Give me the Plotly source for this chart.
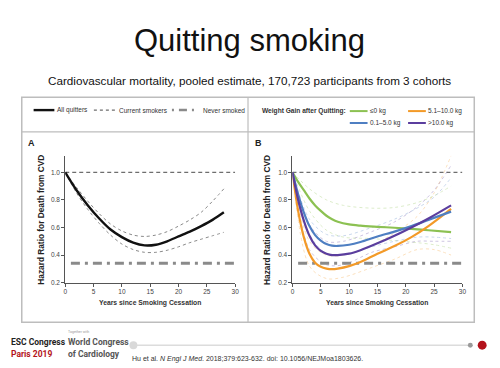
import plotly.graph_objects as go

# ---------------- data ----------------
YEARS_A = [0, 2, 4, 6, 8, 10, 12, 14, 16, 18, 20, 22, 24, 26, 28]
ALL_QUITTERS = [1.0, 0.87, 0.76, 0.665, 0.585, 0.53, 0.49, 0.47, 0.475, 0.50, 0.535, 0.57, 0.61, 0.655, 0.71]
ALL_UPPER = [1.0, 0.89, 0.79, 0.70, 0.625, 0.575, 0.545, 0.535, 0.545, 0.57, 0.61, 0.655, 0.71, 0.79, 0.88]
ALL_LOWER = [1.0, 0.85, 0.73, 0.63, 0.545, 0.48, 0.44, 0.42, 0.42, 0.435, 0.46, 0.49, 0.515, 0.54, 0.565]

REF_YEARS = [0, 30]
CURRENT_SMOKERS = [1.0, 1.0]
NEVER_YEARS = [1, 29.8]
NEVER_SMOKED = [0.34, 0.34]

YEARS_B = [0, 1, 2, 3, 4, 5, 6, 7, 8, 10, 12, 15, 18, 21, 24, 28]
GAIN_LE0 = [1.0, 0.93, 0.87, 0.81, 0.76, 0.72, 0.685, 0.66, 0.642, 0.622, 0.613, 0.605, 0.598, 0.59, 0.58, 0.567]
GAIN_0_5 = [1.0, 0.84, 0.71, 0.61, 0.545, 0.505, 0.48, 0.468, 0.466, 0.475, 0.495, 0.535, 0.57, 0.61, 0.655, 0.715]
GAIN_5_10 = [1.0, 0.72, 0.53, 0.41, 0.345, 0.315, 0.302, 0.298, 0.302, 0.32, 0.35, 0.41, 0.465, 0.53, 0.61, 0.735]
GAIN_GT10 = [1.0, 0.80, 0.65, 0.54, 0.47, 0.43, 0.41, 0.40, 0.40, 0.41, 0.435, 0.485, 0.54, 0.60, 0.665, 0.76]

CI_YEARS_B = [0, 3, 6, 9, 14, 18, 22, 25, 28]
LE0_UP = [1.0, 0.88, 0.80, 0.76, 0.74, 0.745, 0.78, 0.83, 0.90]
LE0_LO = [1.0, 0.72, 0.58, 0.53, 0.52, 0.505, 0.49, 0.475, 0.45]
G05_UP = [1.0, 0.66, 0.55, 0.54, 0.60, 0.66, 0.74, 0.82, 0.96]
G05_LO = [1.0, 0.55, 0.41, 0.40, 0.46, 0.50, 0.53, 0.53, 0.52]
G510_UP = [1.0, 0.50, 0.40, 0.40, 0.47, 0.56, 0.68, 0.85, 1.12]
G510_LO = [1.0, 0.32, 0.23, 0.24, 0.31, 0.37, 0.44, 0.44, 0.40]
G10_UP = [1.0, 0.62, 0.50, 0.50, 0.57, 0.64, 0.75, 0.87, 1.05]
G10_LO = [1.0, 0.44, 0.33, 0.33, 0.42, 0.46, 0.50, 0.50, 0.50]

Y_TICKS = [0.2, 0.4, 0.6, 0.8, 1.0]
Y_TICK_TEXT = ["0.2", "0.4", "0.6", "0.8", "1.0"]
X_TICKS = [0, 5, 10, 15, 20, 25, 30]

LEGEND_A = ["All quitters", "Current smokers", "Never smoked"]
LEGEND_B = ["≤0 kg", "5.1–10.0 kg", "0.1–5.0 kg", ">10.0 kg"]

# ---------------- styles ----------------
W, H = 500, 368
GREEN, BLUE, ORANGE, PURPLE = "#8cc152", "#4f7fc2", "#f39a28", "#5b3e9e"
SANS = "Liberation Sans, Arial, sans-serif"
GREYDASH = "#6e6e6e"
NEVER_COL = "#8a8a8a"


def px(x):
    return x / W


def py(y):
    return 1 - y / H


fig = go.Figure()


def line(x, y, color, width, dash="solid", axes=("x", "y"), opacity=1.0):
    fig.add_trace(go.Scatter(x=x, y=y, mode="lines", xaxis=axes[0], yaxis=axes[1],
                             line=dict(color=color, width=width, dash=dash, shape="spline", smoothing=0.9),
                             opacity=opacity, hoverinfo="skip", showlegend=False))


# Panel A
for arr in (ALL_UPPER, ALL_LOWER):
    line(YEARS_A, arr, "#8a8a8a", 1, "dot")
line(REF_YEARS, CURRENT_SMOKERS, GREYDASH, 1.3, "4px,3px")
line(NEVER_YEARS, NEVER_SMOKED, NEVER_COL, 3, "9px,5px,3px,5px")
line(YEARS_A, ALL_QUITTERS, "#111111", 2.4)

# Panel B
B = ("x2", "y2")
for arr, c in ((LE0_UP, GREEN), (LE0_LO, GREEN), (G05_UP, BLUE), (G05_LO, BLUE),
               (G510_UP, ORANGE), (G510_LO, ORANGE), (G10_UP, PURPLE), (G10_LO, PURPLE)):
    line(CI_YEARS_B, arr, c, 1, "dot", B, 0.3)
line(REF_YEARS, CURRENT_SMOKERS, GREYDASH, 1.3, "4px,3px", B)
line(NEVER_YEARS, NEVER_SMOKED, NEVER_COL, 3, "9px,5px,3px,5px", B)
line(YEARS_B, GAIN_LE0, GREEN, 2.2, axes=B)
line(YEARS_B, GAIN_5_10, ORANGE, 2.2, axes=B)
line(YEARS_B, GAIN_0_5, BLUE, 2.2, axes=B)
line(YEARS_B, GAIN_GT10, PURPLE, 2.2, axes=B)

ydom = [py(285), py(157)]
axis_common = dict(showline=True, linecolor="#555", linewidth=1, ticks="outside", ticklen=3,
                   tickcolor="#555", tickwidth=1, showgrid=False, zeroline=False,
                   tickfont=dict(family=SANS, size=6.5, color="#444"), fixedrange=True)
fig.update_layout(
    xaxis=dict(domain=[px(64), px(236)], range=[0, 30], tickvals=X_TICKS, anchor="y", **axis_common),
    yaxis=dict(domain=ydom, range=[0.2, 1.12], tickvals=Y_TICKS, ticktext=Y_TICK_TEXT, anchor="x", **axis_common),
    xaxis2=dict(domain=[px(294), px(466)], range=[0, 30], tickvals=X_TICKS, anchor="y2", **axis_common),
    yaxis2=dict(domain=ydom, range=[0.2, 1.12], tickvals=Y_TICKS, ticktext=Y_TICK_TEXT, anchor="x2", **axis_common),
)

shapes = []
# frame
shapes.append(dict(type="rect", xref="paper", yref="paper", x0=px(20), x1=px(478), y0=py(98), y1=py(325),
                   line=dict(color="#bdbdbd", width=1.5), layer="below"))
shapes.append(dict(type="line", xref="paper", yref="paper", x0=px(249), x1=px(249), y0=py(98), y1=py(325),
                   line=dict(color="#bdbdbd", width=1.2), layer="below"))
shapes.append(dict(type="line", xref="paper", yref="paper", x0=px(20), x1=px(478), y0=py(133), y1=py(133),
                   line=dict(color="#bdbdbd", width=1.2), layer="below"))

# legend samples (panel A)
ly = py(111)
shapes.append(dict(type="line", xref="paper", yref="paper", x0=px(32), x1=px(53), y0=ly, y1=ly,
                   line=dict(color="#111", width=2.4)))
shapes.append(dict(type="line", xref="paper", yref="paper", x0=px(93), x1=px(115), y0=ly, y1=ly,
                   line=dict(color=GREYDASH, width=1.2, dash="3px,3px")))
shapes.append(dict(type="line", xref="paper", yref="paper", x0=px(172), x1=px(198), y0=ly, y1=ly,
                   line=dict(color=NEVER_COL, width=2.5, dash="2px,5px,8px,5px")))
# legend samples (panel B)
for (x0, yy, c) in ((352, 112, GREEN), (411, 112, ORANGE), (352, 124, BLUE), (411, 124, PURPLE)):
    shapes.append(dict(type="line", xref="paper", yref="paper", x0=px(x0), x1=px(x0 + 18),
                       y0=py(yy), y1=py(yy), line=dict(color=c, width=2)))

# footer decorations
shapes.append(dict(type="line", xref="paper", yref="paper", x0=px(133), x1=px(474), y0=py(348), y1=py(348),
                   line=dict(color="#dcdcdc", width=1.5)))
for (cx, cy, r, c) in ((133, 348, 4, "#d9d9d9"), (474, 348, 2.5, "#9a9a9a"), (486, 348, 4.5, "#b3121b")):
    shapes.append(dict(type="circle", xref="paper", yref="paper", x0=px(cx - r), x1=px(cx + r),
                       y0=py(cy + r), y1=py(cy - r), fillcolor=c, line=dict(width=0)))

ann = []


def text(t, x, y, size, color="#222", family=SANS, xanchor="left", angle=0, bold=False):
    if bold:
        t = "<b>" + t + "</b>"
    ann.append(dict(text=t, x=px(x), y=py(y), xref="paper", yref="paper", xanchor=xanchor, yanchor="middle",
                    showarrow=False, textangle=angle, font=dict(size=size, color=color, family=family)))


text("Quitting smoking", 250, 41, 31, "#111", xanchor="center")
text("Cardiovascular mortality, pooled estimate, 170,723 participants from 3 cohorts", 250, 81, 11.7,
     "#111", xanchor="center")

# panel legends
text(LEGEND_A[0], 54, 111, 6.5, "#333")
text(LEGEND_A[1], 116, 111, 6.5, "#333")
text(LEGEND_A[2], 201, 111, 6.5, "#333")
text("Weight Gain after Quitting:", 261, 112, 6.6, "#333", bold=True)
text(LEGEND_B[0], 370, 112, 6.5, "#333")
text(LEGEND_B[1], 429, 112, 6.5, "#333")
text(LEGEND_B[2], 370, 124, 6.5, "#333")
text(LEGEND_B[3], 429, 124, 6.5, "#333")

# panel labels
text("A", 24, 144, 9, "#222", bold=True)
text("B", 254, 144, 9, "#222", bold=True)

# axis titles
for xc in (40, 268):
    text("Hazard Ratio for Death from CVD", xc, 222, 8.3, "#222", xanchor="center", angle=-90, bold=True)
text("Years since Smoking Cessation", 150, 305, 6.8, "#333", xanchor="center", bold=True)
text("Years since Smoking Cessation", 380, 305, 6.8, "#333", xanchor="center", bold=True)

# footer
FOOT = "Roboto, Liberation Sans, Arial"
text("ESC Congress", 7, 345, 8.5, "#222", family=FOOT, bold=True)
text("Paris 2019", 7, 357, 8.5, "#b3121b", family=FOOT, bold=True)
text("Together with", 65, 335, 3.5, "#999", family=FOOT)
text("World Congress", 65, 345, 8.5, "#555", family=FOOT, bold=True)
text("of Cardiology", 65, 357, 8.5, "#555", family=FOOT, bold=True)
text("Hu et al. <i>N Engl J Med</i>. 2018;379:623-632. doi: 10.1056/NEJMoa1803626.", 130, 362, 7.0, "#333")

fig.update_layout(width=W, height=H, autosize=False, margin=dict(l=0, r=0, t=0, b=0),
                  paper_bgcolor="white", plot_bgcolor="rgba(0,0,0,0)", showlegend=False,
                  shapes=shapes, annotations=ann)

fig.write_html("out.html", config={"displayModeBar": False},
               post_script="document.body.style.margin='0';document.body.style.padding='0';")
